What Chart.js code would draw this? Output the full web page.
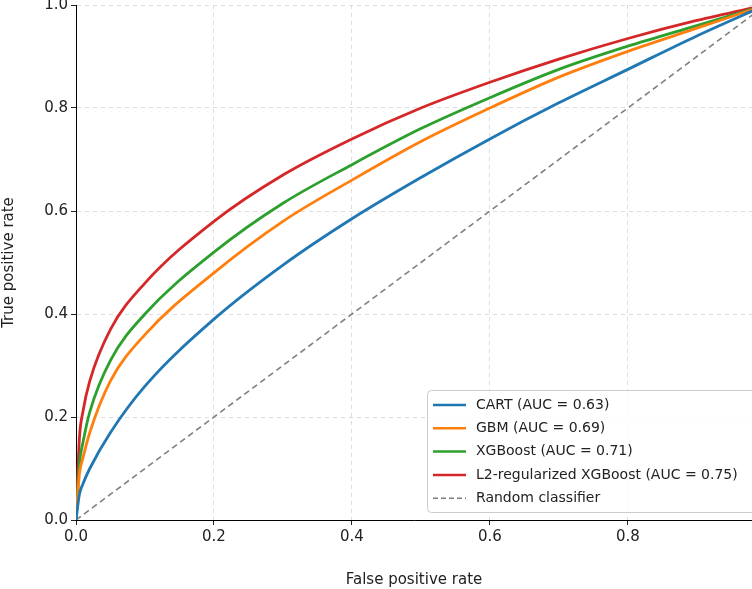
<html><head><script src="https://cdn.jsdelivr.net/npm/chart.js@4"></script>
<style>body{margin:0;background:#fff;overflow:hidden}canvas{display:block;margin-top:-7px}</style></head><body>
<canvas id="c" width="752" height="596"></canvas>
<script>
const fpr = [0,0.005,0.01,0.02,0.05,0.1,0.2,0.3,0.4,0.5,0.6,0.7,0.8,0.9,1.0];
const cart = [0,0.05,0.07,0.10,0.17,0.26,0.39,0.495,0.585,0.665,0.74,0.81,0.875,0.94,1.0];
const gbm  = [0,0.09,0.12,0.17,0.27,0.36,0.48,0.58,0.66,0.735,0.80,0.86,0.91,0.955,1.0];
const xgb  = [0,0.11,0.15,0.21,0.31,0.40,0.52,0.615,0.69,0.76,0.82,0.875,0.92,0.96,1.0];
const l2   = [0,0.16,0.21,0.27,0.37,0.46,0.58,0.67,0.74,0.80,0.85,0.895,0.935,0.97,1.0];
const names = ['CART (AUC = 0.63)','GBM (AUC = 0.69)','XGBoost (AUC = 0.71)','L2-regularized XGBoost (AUC = 0.75)','Random classifier'];
const colors = ['#1f77b4','#ff7f0e','#2ca02c','#d62728','#808080'];
const xTicks = [0,0.2,0.4,0.6,0.8];
const yTicks = [0,0.2,0.4,0.6,0.8,1.0];
const pts = ys => fpr.map((x,i)=>({x, y: ys[i]}));
const F = 'DejaVu Sans';
const legendPlugin = {id:'lg', afterDraw(ch){
  const c=ch.ctx; c.save(); c.translate(0,7);
  c.fillStyle='rgba(255,255,255,0.85)'; c.strokeStyle='#ccc'; c.lineWidth=1;
  c.beginPath(); c.roundRect(427.5,390.5,340,122,4); c.fill(); c.stroke();
  c.font='14px '+F; c.textBaseline='middle'; c.fillStyle='#222';
  names.forEach((n,i)=>{const y=405+i*23.3;
    c.strokeStyle=colors[i]; c.lineWidth=i<4?2.5:1.6; c.setLineDash(i<4?[]:[5,3]);
    c.beginPath(); c.moveTo(433,y); c.lineTo(466,y); c.stroke(); c.setLineDash([]);
    c.fillStyle='#222'; c.fillText(n,476,y);});
  c.restore();}};
const ds = [cart,gbm,xgb,l2].map((d,i)=>({label:names[i],data:pts(d),borderColor:colors[i],borderWidth:2.8,pointRadius:0,cubicInterpolationMode:'monotone'}));
ds.push({label:names[4],data:[{x:0,y:0},{x:1,y:1}],borderColor:'#808080',borderWidth:1.6,borderDash:[6,4],pointRadius:0});
new Chart(document.getElementById('c'),{type:'line',data:{datasets:ds},plugins:[legendPlugin],
options:{responsive:false,animation:false,layout:{padding:{top:5,right:0}},
plugins:{legend:{display:false},tooltip:{enabled:false}},
scales:{
 x:{type:'linear',min:0,max:0.98,afterFit(s){s.height=69},
   afterBuildTicks(s){s.ticks=xTicks.map(v=>({value:v}))},
   ticks:{font:{size:15,family:F},color:'#222',callback:v=>v.toFixed(1),padding:3},
   grid:{color:'#ddd',tickColor:'#222',tickLength:5,drawTicks:true},border:{color:'#000',dash:[4,4],width:1},
   title:{display:true,text:'False positive rate',font:{size:15,family:F},color:'#222',padding:{top:-6,bottom:0}}},
 y:{min:0,max:1,afterFit(s){s.width=76},
   afterBuildTicks(s){s.ticks=yTicks.map(v=>({value:v}))},
   ticks:{font:{size:15,family:F},color:'#222',callback:v=>v.toFixed(1)},
   grid:{color:'#ddd',tickColor:'#222',tickLength:5},border:{color:'#000',dash:[4,4]},
   title:{display:true,text:'True positive rate',font:{size:15,family:F},color:'#222',padding:{top:0,bottom:8}}}
}}});
</script></body></html>
